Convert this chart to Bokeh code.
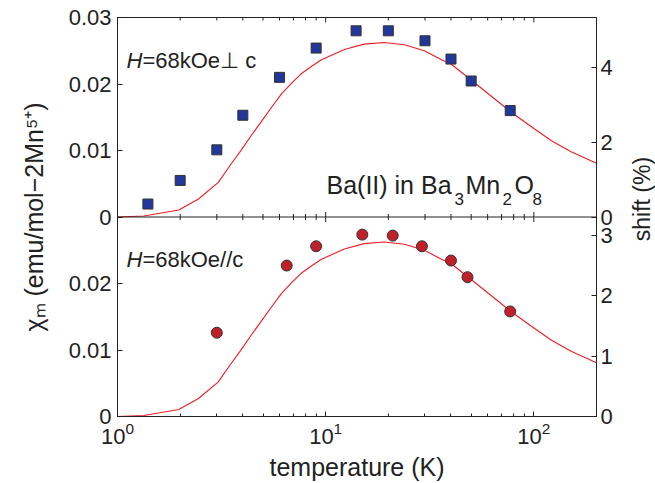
import math
from bokeh.plotting import figure
from bokeh.models import Range1d, LinearAxis, FixedTicker, Label, Span
from bokeh.embed import file_html
from bokeh.resources import INLINE

# ---------------- data ----------------
perp_T = [1.4, 2.0, 3.0, 4.0, 6.0, 9.0, 14.0, 20.0, 30.0, 40.0, 50.0, 77.0]
perp_chi = [0.00195, 0.0055, 0.0101, 0.0153, 0.0210, 0.0254, 0.0280, 0.0280,
            0.0265, 0.02375, 0.02045, 0.0160]

para_T = [3.0, 6.5, 9.0, 15.0, 21.0, 29.0, 40.0, 48.0, 77.0]
para_chi = [0.0126, 0.0227, 0.0256, 0.02735, 0.0272, 0.0256, 0.02345, 0.02095, 0.0158]

curve_T = [1.0, 1.34, 1.97, 2.45, 3.05, 3.5, 3.9, 4.4, 4.9, 5.5, 6.15, 6.9, 7.6, 8.5,
           9.5, 10.6, 12.3, 15.3, 19.1, 23.9, 29.8, 35.8, 40.0, 50.0, 62.3, 77.6,
           97.0, 121.0, 151.0, 200.0]
curve_chi = [0.0, 0.00015, 0.00105, 0.0027, 0.0052, 0.0079, 0.0099, 0.0123, 0.0143,
             0.0165, 0.01855, 0.0202, 0.0215, 0.0226, 0.0236, 0.0243, 0.0252, 0.0260,
             0.02625, 0.0259, 0.0250, 0.0237, 0.0230, 0.0206, 0.0182, 0.0158, 0.0136,
             0.0115, 0.0098, 0.0081]

chi_ticks = [0, 0.01, 0.02, 0.03]
chi_labels = ["0", "0.01", "0.02", "0.03"]
CHI_FULL = 0.03
shift_top_ticks = [0, 2, 4]
shift_bot_ticks = [0, 1, 2, 3]
SHIFT_TOP_FULL = 5.333
SHIFT_BOT_FULL = 3.3
x_start, x_end = 1, 200

x_title = "temperature (K)"
y_title = "\u03c7\u2098 (emu/mol\u22122Mn\u2075\u207a)"
y2_title = "shift (%)"

# ---------------- layout helpers ----------------
FONT = "Liberation Sans"
TXT = "#222222"
FL, FT, FW, FH = 117, 17, 479, 400
DEC = FW / math.log10(x_end / x_start)


def xd(px):  # canvas x pixel -> data x
    return 10 ** ((px - FL) / DEC)


def yd(py):  # canvas y pixel -> main-range y
    return CHI_FULL - (py - FT) * 2 * CHI_FULL / FH


p = figure(width=655, height=483, x_axis_type="log",
           x_range=Range1d(x_start, x_end), y_range=Range1d(-CHI_FULL, CHI_FULL),
           output_backend="svg", toolbar_location=None,
           min_border_left=FL, min_border_right=655 - FL - FW, min_border_top=FT,
           min_border_bottom=483 - FT - FH)
p.extra_y_ranges = {"bottom": Range1d(0, 2 * CHI_FULL), "shift": Range1d(-1, 1)}
p.xgrid.visible = False
p.ygrid.visible = False
p.outline_line_color = TXT
p.outline_line_width = 1
p.background_fill_color = "white"
p.border_fill_color = "white"


def style_axis(ax):
    ax.axis_line_color = TXT
    ax.major_tick_line_color = TXT
    ax.minor_tick_line_color = TXT
    ax.major_tick_in = 5
    ax.major_tick_out = 0
    ax.minor_tick_in = 3
    ax.minor_tick_out = 0
    ax.major_label_text_font = FONT
    ax.major_label_text_color = TXT
    ax.major_label_text_font_size = "22px"
    ax.axis_label_text_font = FONT
    ax.axis_label_text_color = TXT
    ax.axis_label_text_font_style = "normal"
    ax.axis_label_text_font_size = "25px"


# bottom x axis
xb = p.xaxis[0]
style_axis(xb)
xb.major_label_standoff = 5
xb.axis_label = x_title
xb.axis_label_standoff = 6

# left axis: both panels
left_pos, left_lab = [], {}
for v, s in zip(chi_ticks, chi_labels):
    left_pos.append(v)
    left_lab[v] = s
for v, s in zip(chi_ticks[:-1], chi_labels[:-1]):
    pos = round(v - CHI_FULL, 6)
    left_pos.append(pos)
    left_lab[pos] = s
yl = p.yaxis[0]
yl.ticker = FixedTicker(ticks=left_pos)
yl.major_label_overrides = left_lab
style_axis(yl)
yl.minor_tick_in = 0
yl.major_label_standoff = 6
yl.axis_label = y_title
yl.axis_label_standoff = 18

# right axis: shift (%)
right_pos, right_lab = [], {}
for s in shift_top_ticks:
    pos = round(s / SHIFT_TOP_FULL, 6)
    right_pos.append(pos)
    right_lab[pos] = str(s)
for s in shift_bot_ticks:
    pos = round(-1 + s / SHIFT_BOT_FULL, 6)
    right_pos.append(pos)
    right_lab[pos] = str(s)
yr = LinearAxis(y_range_name="shift", ticker=FixedTicker(ticks=right_pos),
                major_label_overrides=right_lab)
style_axis(yr)
yr.minor_tick_in = 0
yr.major_label_standoff = 4
p.add_layout(yr, "right")

# panel divider, and x ticks on the divider and on the top edge
p.add_layout(Span(location=0, dimension="width", line_color=TXT, line_width=1))
tick_major = [d for d in (1, 10, 100) if d <= x_end]
tick_minor = [m * d for d in (1, 10, 100) for m in range(2, 10) if m * d <= x_end]
for yy in (0, CHI_FULL):
    p.scatter(tick_major, [yy] * len(tick_major), marker="dash", angle=math.pi / 2,
              size=10, line_color=TXT, line_width=1)
    p.scatter(tick_minor, [yy] * len(tick_minor), marker="dash", angle=math.pi / 2,
              size=6, line_color=TXT, line_width=1)

RED = "#ee1c25"
# top panel (H perp c)
p.line(curve_T, curve_chi, line_color=RED, line_width=1.1)
p.scatter(perp_T, perp_chi, marker="square", size=10, fill_color="#22379a",
          line_color="#333333", line_width=1)
# bottom panel (H // c)
p.line(curve_T, curve_chi, line_color=RED, line_width=1.1, y_range_name="bottom")
p.scatter(para_T, para_chi, marker="circle", size=11, fill_color="#c0202a",
          line_color="#333333", line_width=1, y_range_name="bottom")


def mk(text, px, py, size, angle=0.0, align="left", style="normal"):
    return Label(x=xd(px), y=yd(py), text=text, text_font=FONT,
                 text_font_size=f"{size}px", text_color=TXT, angle=angle,
                 text_align=align, text_baseline="alphabetic", text_font_style=style)


# panel annotations
for lbl in [mk("H", 126, 60, 22, style="italic"),
            mk("=68kOe\u22a5 c", 126 + 0.722 * 22, 60, 22),
            mk("H", 126, 260, 22, style="italic"),
            mk("=68kOe//c", 126 + 0.722 * 22, 260, 22),
            mk("Ba(II) in Ba", 326, 185, 25),
            mk("3", 454, 199, 17),
            mk("Mn", 465, 185, 25),
            mk("2", 502, 199, 17),
            mk("O", 514, 185, 25),
            mk("8", 532, 199, 17)]:
    p.add_layout(lbl)

# right-hand title, read bottom-to-top, placed in the right side panel
p.add_layout(mk(y2_title, 641, 199, 23, angle=math.pi / 2, align="center"), "right")

open("out.html", "w").write(file_html(p, INLINE))
